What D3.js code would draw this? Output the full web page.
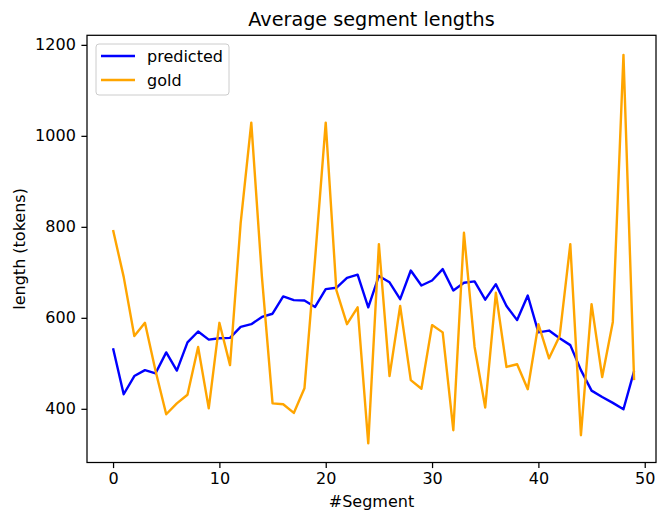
<!DOCTYPE html>
<html>
<head>
<meta charset="utf-8">
<script src="https://cdn.jsdelivr.net/npm/d3@7"></script>
<style>
  body { margin: 0; background: #fff; }
  text { font-family: "DejaVu Sans", sans-serif; fill: #000; }
</style>
</head>
<body>
<svg id="chart"></svg>
<script>
const segments = d3.range(50);
const predicted = [533, 432, 472, 485, 478, 524, 484, 546, 570, 552,
  555, 556, 580, 586, 602, 609, 647, 639, 638, 624,
  663, 666, 688, 695, 623, 692, 678, 641, 704, 671,
  682, 707, 660, 677, 680, 640, 674, 626, 595, 649,
  568, 572, 555, 540, 485, 440, 426, 413, 399, 483];
const gold = [793, 690, 560, 589, 483, 388, 412, 431, 536, 401,
  589, 496, 808, 1029, 690, 412, 410, 391, 445, 730,
  1029, 661, 586, 623, 324, 762, 472, 626, 463, 444,
  584, 568, 353, 787, 536, 403, 655, 492, 498, 443,
  586, 511, 560, 762, 342, 630, 470, 591, 1178, 463];
const xTicks = [0, 10, 20, 30, 40, 50];
const yTicks = [400, 600, 800, 1000, 1200];
const seriesNames = ['predicted', 'gold'];
const seriesColors = ['blue', 'orange'];

const width = 657, height = 513;
const svg = d3.select('#chart').attr('width', width).attr('height', height);

const x = d3.scaleLinear().domain([-2.45, 51.06]).range([87, 656]);
const y = d3.scaleLinear().domain([282, 1221]).range([462.5, 35.3]);

// axes frame
svg.append('rect')
  .attr('x', x.range()[0]).attr('y', y.range()[1])
  .attr('width', x.range()[1] - x.range()[0])
  .attr('height', y.range()[0] - y.range()[1])
  .attr('fill', 'none').attr('stroke', '#000').attr('stroke-width', 1.25);

const xAxis = svg.append('g')
  .attr('transform', `translate(0,${y.range()[0]})`)
  .call(d3.axisBottom(x).tickValues(xTicks).tickSize(5.6).tickPadding(5).tickFormat(d3.format('d')));
const yAxis = svg.append('g')
  .attr('transform', `translate(${x.range()[0]},0)`)
  .call(d3.axisLeft(y).tickValues(yTicks).tickSize(5.6).tickPadding(5.6).tickFormat(d3.format('d')));

[xAxis, yAxis].forEach(g => {
  g.select('.domain').remove();
  g.selectAll('.tick line').attr('stroke', '#000').attr('stroke-width', 1.25);
  g.selectAll('.tick text').style('font-size', '16px').attr('fill', '#000');
});

const line = d3.line().x((d, i) => x(segments[i])).y(d => y(d));

[predicted, gold].forEach((s, k) => {
  svg.append('path')
    .datum(s)
    .attr('d', line)
    .attr('fill', 'none')
    .attr('stroke', seriesColors[k])
    .attr('stroke-width', 2.4)
    .attr('stroke-linejoin', 'round');
});

svg.append('text')
  .attr('x', (x.range()[0] + x.range()[1]) / 2).attr('y', 26)
  .attr('text-anchor', 'middle').style('font-size', '19.2px')
  .text('Average segment lengths');

svg.append('text')
  .attr('x', (x.range()[0] + x.range()[1]) / 2).attr('y', 507)
  .attr('text-anchor', 'middle').style('font-size', '16px')
  .text('#Segment');

svg.append('text')
  .attr('transform', `translate(25,${(y.range()[0] + y.range()[1]) / 2}) rotate(-90)`)
  .attr('text-anchor', 'middle').style('font-size', '16px')
  .text('length (tokens)');

// legend
const legend = svg.append('g').attr('transform', 'translate(96,44)');
legend.append('rect')
  .attr('width', 133).attr('height', 51).attr('rx', 3)
  .attr('fill', '#fff').attr('fill-opacity', 0.8)
  .attr('stroke', '#ccc').attr('stroke-width', 1);

const items = legend.selectAll('.item')
  .data(seriesNames)
  .enter()
  .append('g')
  .attr('class', 'item')
  .attr('transform', (d, i) => `translate(0,${12 + i * 24})`);

items.append('line')
  .attr('x1', 5).attr('x2', 39)
  .attr('stroke', (d, i) => seriesColors[i])
  .attr('stroke-width', 2.4);

items.append('text')
  .attr('x', 51).attr('dy', '0.35em')
  .style('font-size', '16px')
  .text(d => d);
</script>
</body>
</html>
